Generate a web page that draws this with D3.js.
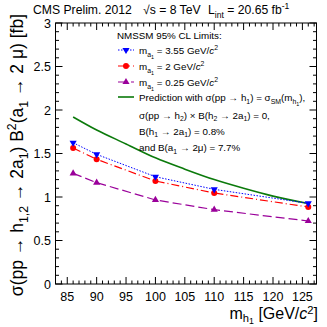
<!DOCTYPE html>
<html lang="en">
<head>
<meta charset="utf-8">
<script src="https://d3js.org/d3.v7.min.js"></script>
<style>
  body { margin: 0; background: #fff; }
  svg text { font-family: "Liberation Sans", Arial, sans-serif; fill: #000; }
</style>
</head>
<body>
<div id="chart"></div>
<script>
// masses of h1 where limits were computed
const massPoints = [86, 90, 100, 110, 126];
const limit355 = [1.624, 1.49, 1.233, 1.088, 0.927];
const limit200 = [1.563, 1.433, 1.184, 1.046, 0.885];
const limit025 = [1.272, 1.165, 0.966, 0.854, 0.724];
// prediction curve
const predMass = [86, 90, 95, 100, 105, 110, 115, 120, 126];
const predValue = [1.92, 1.77, 1.61, 1.45, 1.32, 1.20, 1.10, 1.01, 0.925];
const xTicks = [85, 90, 95, 100, 105, 110, 115, 120, 125];
const yTicks = [0, 0.5, 1, 1.5, 2, 2.5, 3];

const W = 327, H = 327;
const frame = {left: 55.5, right: 316.5, top: 23, bottom: 284};

const svg = d3.select("#chart").append("svg")
    .attr("width", W).attr("height", H);

const x = d3.scaleLinear().domain([83, 127.4]).range([frame.left, frame.right]);
const y = d3.scaleLinear().domain([0, 3]).range([frame.bottom, frame.top]);

// rich text helper: parts = [[text, mode, italic]] mode: "", "sub", "sub2", "sup"
function rich(textSel, parts, size, subK, supK) {
    subK = subK || 0.3;
    supK = supK || 0.4;
    let cur = 0;
    parts.forEach(p => {
        const mode = p[1] || "";
        const off = mode === "sub" ? size * subK : mode === "sub2" ? size * subK * 1.6
            : mode === "sup" ? -size * supK : 0;
        const t = textSel.append("tspan").text(p[0]).attr("dy", off - cur);
        if (mode === "sub2") t.attr("font-size", size * 0.55);
        else if (mode) t.attr("font-size", size * 0.7);
        if (p[2]) t.attr("font-style", "italic");
        cur = off;
    });
}

// frame
svg.append("rect")
    .attr("x", frame.left).attr("y", frame.top)
    .attr("width", frame.right - frame.left).attr("height", frame.bottom - frame.top)
    .attr("fill", "none").attr("stroke", "#000").attr("stroke-width", 1);

// ticks (drawn inward on all sides, ROOT style)
const ticks = svg.append("g").attr("stroke", "#000").attr("stroke-width", 1);
d3.range(84, 128, 1).forEach(v => {
    const len = v % 5 === 0 ? 7 : 3.5;
    ticks.append("line").attr("x1", x(v)).attr("x2", x(v))
        .attr("y1", frame.bottom).attr("y2", frame.bottom - len);
    ticks.append("line").attr("x1", x(v)).attr("x2", x(v))
        .attr("y1", frame.top).attr("y2", frame.top + len);
});
d3.range(0, 31, 1).forEach(i => {
    const v = i / 10;
    const len = i % 5 === 0 ? 7 : 3.5;
    ticks.append("line").attr("y1", y(v)).attr("y2", y(v))
        .attr("x1", frame.left).attr("x2", frame.left + len);
    ticks.append("line").attr("y1", y(v)).attr("y2", y(v))
        .attr("x1", frame.right).attr("x2", frame.right - len);
});

// tick labels
svg.append("g").selectAll("text").data(xTicks).join("text")
    .attr("x", d => x(d)).attr("y", 300.5)
    .attr("text-anchor", "middle").attr("font-size", 12.5)
    .text(d => d);
svg.append("g").selectAll("text").data(yTicks).join("text")
    .attr("x", 51).attr("y", d => y(d) + 4.5)
    .attr("text-anchor", "end").attr("font-size", 12.5)
    .text(d => d);

// series
const series = [
    {vals: limit025, color: "#9a009a", dash: "9,4", width: 1.2, marker: "tri"},
    {vals: limit200, color: "#ff0000", dash: "8,3,1,3", width: 1.2, marker: "circ"},
    {vals: limit355, color: "#0000ff", dash: "1.5,1.5", width: 1, marker: "itri"}
];

function drawMarker(g, type, cx, cy, color) {
    if (type === "circ") {
        g.append("circle").attr("cx", cx).attr("cy", cy).attr("r", 3).attr("fill", color);
    } else {
        const s = d3.symbol().type(d3.symbolTriangle).size(22);
        g.append("path").attr("d", s())
            .attr("transform", `translate(${cx},${cy})` + (type === "itri" ? " rotate(180)" : ""))
            .attr("fill", color);
    }
}

const line = d3.line().x(d => x(d[0])).y(d => y(d[1]));
const curve = d3.line().x(d => x(d[0])).y(d => y(d[1])).curve(d3.curveMonotoneX);

svg.append("path")
    .datum(predMass.map((m, i) => [m, predValue[i]]))
    .attr("d", curve).attr("fill", "none")
    .attr("stroke", "#0b7a0b").attr("stroke-width", 1.6);

series.forEach(s => {
    const pts = massPoints.map((m, i) => [m, s.vals[i]]);
    svg.append("path").datum(pts).attr("d", line)
        .attr("fill", "none").attr("stroke", s.color)
        .attr("stroke-width", s.width).attr("stroke-dasharray", s.dash);
    const g = svg.append("g");
    pts.forEach(p => drawMarker(g, s.marker, x(p[0]), y(p[1]), s.color));
});

// legend
const LF = 9.8;
const lg = svg.append("g").attr("font-size", LF);
lg.append("text").attr("x", 117).attr("y", 38.5).text("NMSSM 95% CL Limits:");
const legendRows = [
    {s: series[2], yc: 50, label: "3.55"},
    {s: series[1], yc: 66, label: "2"},
    {s: series[0], yc: 82, label: "0.25"}
];
legendRows.forEach(r => {
    lg.append("line").attr("x1", 118).attr("x2", 134)
        .attr("y1", r.yc).attr("y2", r.yc)
        .attr("stroke", r.s.color).attr("stroke-width", r.s.width)
        .attr("stroke-dasharray", r.s.dash);
    drawMarker(lg, r.s.marker, 126, r.yc, r.s.color);
    const t = lg.append("text").attr("x", 139).attr("y", r.yc + 4);
    rich(t, [["m"], ["a", "sub"], ["1", "sub2"], [" = " + r.label + " GeV/"], ["c", "", true], ["2", "sup"]], LF);
});
lg.append("line").attr("x1", 118).attr("x2", 134).attr("y1", 97).attr("y2", 97)
    .attr("stroke", "#0b7a0b").attr("stroke-width", 1.6);
const predLines = [
    [["Prediction with σ(pp → h"], ["1", "sub"], [") = σ"], ["SM", "sub"], ["(m"], ["h", "sub"], ["1", "sub2"], ["),"]],
    [["σ(pp → h"], ["2", "sub"], [") × B(h"], ["2", "sub"], [" → 2a"], ["1", "sub"], [") = 0,"]],
    [["B(h"], ["1", "sub"], [" → 2a"], ["1", "sub"], [") = 0.8%"]],
    [["and B(a"], ["1", "sub"], [" → 2μ) = 7.7%"]]
];
[101, 118.5, 134.5, 151].forEach((yy, i) => {
    rich(lg.append("text").attr("x", 139).attr("y", yy), predLines[i], LF);
});

// title
const TF = 12.2;
const title = svg.append("g").attr("font-size", TF);
title.append("text").attr("x", 33).attr("y", 14).text("CMS Prelim. 2012");
title.append("text").attr("x", 143).attr("y", 14).text("√s = 8 TeV");
rich(title.append("text").attr("x", 208).attr("y", 14),
    [["L"], ["int", "sub"], [" = 20.65 fb"], ["-1", "sup"]], TF);

// axis titles
rich(svg.append("text").attr("x", 318).attr("y", 319).attr("text-anchor", "end").attr("font-size", 16),
    [["m"], ["h", "sub"], ["1", "sub2"], [" [GeV/"], ["c", "", true], ["2", "sup"], ["]"]], 16, 0.18, 0.33);
rich(svg.append("text").attr("transform", "translate(23,14) rotate(-90)")
        .attr("text-anchor", "end").attr("font-size", 17.5),
    [["σ(pp → h"], ["1,2", "sub"], [" → 2a"], ["1", "sub"], [") B"], ["2", "sup"], ["(a"], ["1", "sub"], [" → 2 μ) [fb]"]], 17.5);
</script>
</body>
</html>
